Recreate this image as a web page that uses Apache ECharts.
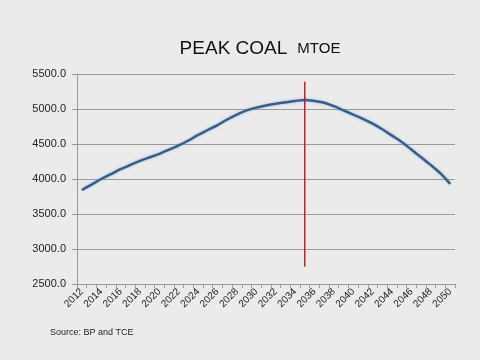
<!DOCTYPE html>
<html>
<head>
<meta charset="utf-8">
<script src="https://cdn.jsdelivr.net/npm/echarts@6/dist/echarts.min.js"></script>
<style>
html,body{margin:0;padding:0;background:#ebebeb;}
#c{width:480px;height:360px;}
</style>
</head>
<body>
<div id="c"></div>
<script>
var years = [];
for (var y = 2012; y <= 2050; y++) years.push(String(y));
var coalMtoe = [3843,3920,4000,4070,4140,4200,4260,4310,4360,4420,
                4480,4550,4630,4700,4770,4850,4920,4980,5020,5050,
                5075,5095,5115,5130,5115,5090,5040,4980,4920,4860,
                4790,4710,4620,4530,4420,4310,4200,4080,3930];
var peakYear = '2035';
var peakLineRange = [2750, 5390];
var yTicks = [2500, 3000, 3500, 4000, 4500, 5000, 5500];

var chart = echarts.init(document.getElementById('c'));
chart.setOption({
  backgroundColor: '#ebebeb',
  animation: false,
  title: {
    text: '{a|PEAK COAL}  {b|MTOE}',
    left: 255, top: 34, textAlign: 'center',
    textStyle: {
      fontWeight: 'normal',
      rich: {
        a: {fontFamily: 'Liberation Sans', fontSize: 19, fontWeight: 'normal', color: '#111'},
        b: {fontFamily: 'Liberation Sans', fontSize: 15, fontWeight: 'normal', color: '#111'}
      }
    }
  },
  graphic: [{
    type: 'text', left: 50, top: 328,
    style: {text: 'Source: BP and TCE', fontFamily: 'Liberation Sans', fontSize: 9, fill: '#222'}
  }],
  grid: {left: 77, right: 25, top: 74, bottom: 76},
  xAxis: {
    type: 'category', data: years, boundaryGap: true,
    axisLine: {lineStyle: {color: '#999'}},
    axisTick: {show: true, interval: 0, length: 4, lineStyle: {color: '#999'}},
    axisLabel: {interval: 1, rotate: 45, fontFamily: 'Liberation Sans', fontSize: 10, color: '#222', margin: 6},
    splitLine: {show: false}
  },
  yAxis: {
    type: 'value', min: yTicks[0], max: yTicks[yTicks.length - 1], interval: 500,
    axisLine: {show: true, lineStyle: {color: '#999'}},
    axisTick: {show: true, length: 5, lineStyle: {color: '#999'}},
    axisLabel: {fontFamily: 'Liberation Sans', fontSize: 11, color: '#222', margin: 11,
      formatter: function (v) { return v.toFixed(1); }},
    splitLine: {lineStyle: {color: '#9a9a9a', width: 1}}
  },
  series: [{
    type: 'line', data: coalMtoe, symbol: 'none', smooth: 0.3,
    lineStyle: {color: '#385d8a', width: 2.5, shadowColor: 'rgba(120,160,210,0.6)', shadowBlur: 3}
  }, {
    type: 'line', symbol: 'none',
    data: [[peakYear, peakLineRange[0]], [peakYear, peakLineRange[1]]],
    lineStyle: {color: '#c0202a', width: 1.5}
  }]
});
</script>
</body>
</html>
